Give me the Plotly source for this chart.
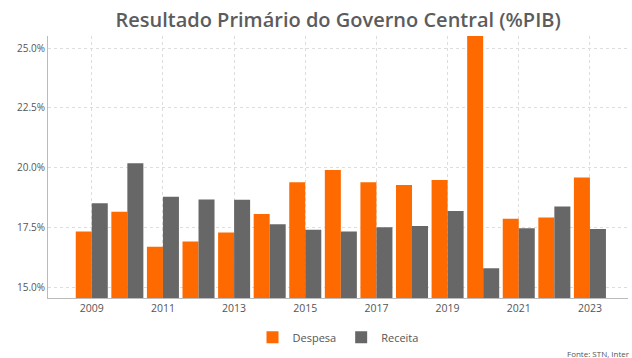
import plotly.graph_objects as go

years = list(range(2009, 2024))
despesa = [17.35, 18.18, 16.72, 16.93, 17.31, 18.08, 19.40, 19.92, 19.40, 19.29,
           19.50, 25.50, 17.88, 17.93, 19.60]
receita = [18.53, 20.20, 18.80, 18.69, 18.67, 17.65, 17.42, 17.35, 17.53, 17.58,
           18.21, 15.82, 17.49, 18.39, 17.46]
y_ticks = [15.0, 17.5, 20.0, 22.5, 25.0]
x_ticks = [2009, 2011, 2013, 2015, 2017, 2019, 2021, 2023]

ORANGE = "#FF6A00"
GRAY = "#676767"
TEXT = "#555555"
FONT = "Open Sans"

fig = go.Figure()
fig.add_trace(go.Bar(x=years, y=despesa, name="Despesa", marker_color=ORANGE,
                     marker_line_width=0))
fig.add_trace(go.Bar(x=years, y=receita, name="Receita", marker_color=GRAY,
                     marker_line_width=0))

fig.update_layout(
    width=632, height=358,
    margin=dict(l=48, r=4, t=36, b=60, autoexpand=False),
    paper_bgcolor="white", plot_bgcolor="white",
    barmode="group", bargap=0.1, bargroupgap=0,
    font=dict(family=FONT, color=TEXT, size=11),
    title=dict(text="Resultado Primário do Governo Central (%PIB)",
               x=0.535, xanchor="center", y=0.944, yanchor="middle",
               font=dict(family=FONT, size=20, color="#5c5c5c", weight=600)),
    showlegend=True,
    legend=dict(orientation="h", x=0.5, xanchor="center",
                yref="container", y=0.058, yanchor="middle",
                font=dict(size=11, color=TEXT), itemsizing="constant"),
    xaxis=dict(range=[2007.77, 2024.07], tickvals=x_ticks,
               ticktext=[str(v) for v in x_ticks],
               showgrid=True, gridcolor="#dddddd", griddash="dot", gridwidth=1,
               showline=True, linecolor="#bbbbbb", linewidth=1,
               ticks="", zeroline=False, tickfont=dict(size=10.5, color=TEXT)),
    yaxis=dict(range=[14.58, 25.5], tickvals=y_ticks,
               ticktext=[f"{v:.1f}%" for v in y_ticks],
               showgrid=True, gridcolor="#dddddd", griddash="dot", gridwidth=1,
               showline=True, linecolor="#bbbbbb", linewidth=1,
               ticks="", zeroline=False, tickfont=dict(size=10, color=TEXT)),
)

fig.add_annotation(text="Fonte: STN, Inter", xref="paper", yref="paper",
                   x=0.891, xanchor="left", y=-0.21, yanchor="middle",
                   showarrow=False, font=dict(family=FONT, size=8, color=TEXT))

fig.write_html("out.html")
